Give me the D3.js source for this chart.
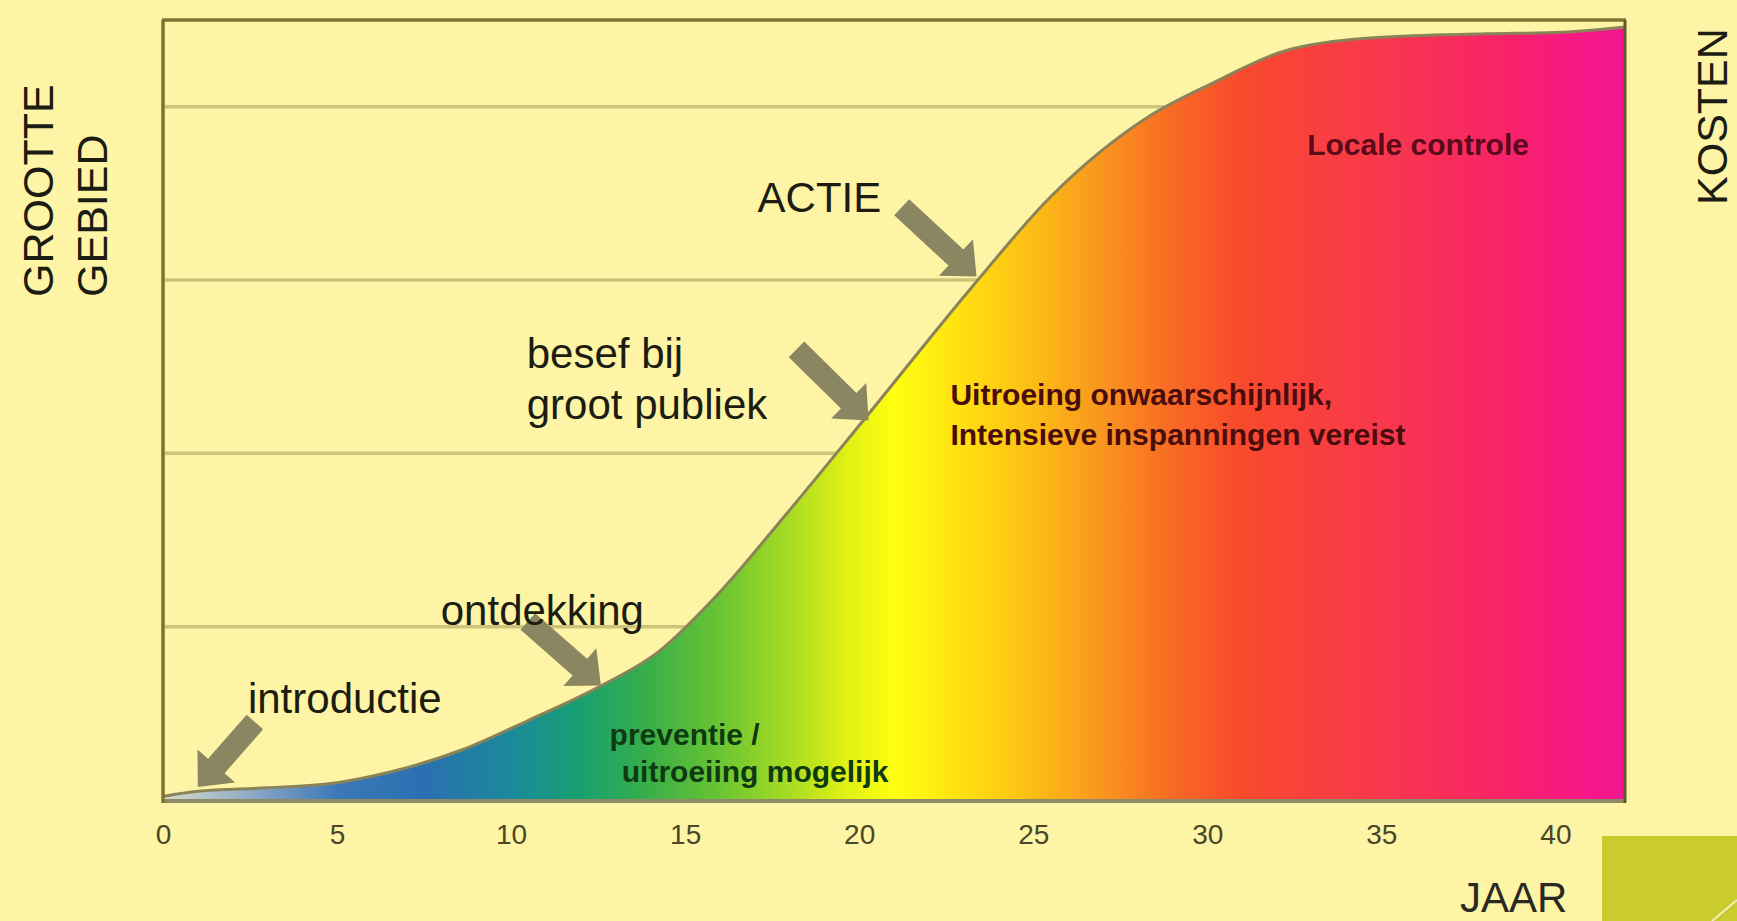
<!DOCTYPE html>
<html>
<head>
<meta charset="utf-8">
<script src="https://cdn.jsdelivr.net/npm/d3@7"></script>
<style>
  html, body { margin: 0; padding: 0; background: #fdf5a5; }
  svg { display: block; }
  text { font-family: "Liberation Sans", Arial, sans-serif; }
</style>
</head>
<body>
<svg id="chart" width="1737" height="921"></svg>
<script>
// ---------- data ----------
const years = [0, 1, 3, 5, 6.7, 8.6, 10.5, 12.5, 14.2, 16, 17.7, 20.2, 23.2, 25.5, 28.3, 30.2, 32.2, 35, 38, 40.2, 42];
const areaSize = [0.02, 0.05, 0.07, 0.10, 0.17, 0.29, 0.46, 0.65, 0.85, 1.2, 1.6, 2.21, 2.95, 3.48, 3.94, 4.14, 4.32, 4.40, 4.42, 4.43, 4.46];
const xTicks = [0, 5, 10, 15, 20, 25, 30, 35, 40];
const gridValues = [1, 2, 3, 4];

// annotation labels (data coordinates)
const labelText = ["introductie", "ontdekking", "besef bij", "groot publiek", "ACTIE"];
const labelX = [2.44, 7.98, 10.45, 10.45, 17.08];
const labelY = [0.50, 1.01, 2.49, 2.20, 3.39];

const zoneText = ["preventie /", "uitroeiing mogelijk", "Uitroeing onwaarschijnlijk,", "Intensieve inspanningen vereist", "Locale controle"];
const zoneX = [12.83, 13.18, 22.62, 22.62, 32.87];
const zoneY = [0.317, 0.104, 2.28, 2.05, 3.72];

// arrows: tail -> tip (data coordinates)
const arrowTailX = [2.64, 10.48, 18.2, 21.22];
const arrowTailY = [0.45, 1.03, 2.60, 3.42];
const arrowTipX = [1.0, 12.58, 20.27, 23.37];
const arrowTipY = [0.075, 0.66, 2.19, 3.02];

// gradient along years (style)
const gradYears = [0, 2.5, 5, 7.5, 10, 12, 14, 16, 18, 19.5, 21, 23, 25, 27, 29, 31, 33, 35, 37, 39, 41, 42];
const gradColors = ["#d8dcc8", "#8eaac6", "#3c78b8", "#2a70b0", "#1a8a9a", "#18a070", "#3aaf48", "#6ac432",
                    "#a8dc22", "#dcef15", "#ffff10", "#ffdf10", "#fcbd15", "#f9951e", "#f86a24", "#f84a2c",
                    "#f8403e", "#f8384c", "#f82c5c", "#f8206e", "#f8168a", "#f01890"];

// ---------- layout ----------
const svg = d3.select("#chart");
const x = d3.scaleLinear().domain([0, 42]).range([163, 1625]);
const y = d3.scaleLinear().domain([0, 4.5]).range([800, 20]);

svg.append("rect").attr("width", 1737).attr("height", 921).attr("fill", "#fdf5a5");

// gradient
const defs = svg.append("defs");
const grad = defs.append("linearGradient").attr("id", "areaGrad")
  .attr("gradientUnits", "userSpaceOnUse")
  .attr("x1", x(0)).attr("x2", x(42)).attr("y1", 0).attr("y2", 0);
gradYears.forEach((g, i) => grad.append("stop").attr("offset", g / 42).attr("stop-color", gradColors[i]));

// grid
svg.append("g").selectAll("line").data(gridValues).join("line")
  .attr("x1", x(0)).attr("x2", x(42))
  .attr("y1", d => y(d)).attr("y2", d => y(d))
  .attr("stroke", "#cdc47a").attr("stroke-width", 3.5);

// area
const pts = years.map((yr, i) => [yr, areaSize[i]]);
const areaGen = d3.area().x(d => x(d[0])).y0(y(0)).y1(d => y(d[1])).curve(d3.curveMonotoneX);
const lineGen = d3.line().x(d => x(d[0])).y(d => y(d[1])).curve(d3.curveMonotoneX);
svg.append("path").datum(pts).attr("d", areaGen).attr("fill", "url(#areaGrad)");
svg.append("path").datum(pts).attr("d", lineGen).attr("fill", "none")
  .attr("stroke", "#8a8358").attr("stroke-width", 3);

// frame
svg.append("line").attr("x1", x(0)).attr("x2", x(42)).attr("y1", y(0) + 1).attr("y2", y(0) + 1)
  .attr("stroke", "#8f8a66").attr("stroke-width", 4);
svg.append("line").attr("x1", x(0) - 1).attr("x2", x(42) + 1).attr("y1", y(4.5)).attr("y2", y(4.5))
  .attr("stroke", "#7c7532").attr("stroke-width", 3.5);
svg.append("line").attr("x1", x(0)).attr("x2", x(0)).attr("y1", y(4.5)).attr("y2", y(0) + 3)
  .attr("stroke", "#7c7532").attr("stroke-width", 3.5);
svg.append("line").attr("x1", x(42)).attr("x2", x(42)).attr("y1", y(4.5)).attr("y2", y(0) + 3)
  .attr("stroke", "#5f5a2c").attr("stroke-width", 3);

// x axis
const ax = svg.append("g").attr("transform", `translate(0,${y(0)})`)
  .call(d3.axisBottom(x).tickValues(xTicks).tickSize(0).tickPadding(24).tickFormat(d3.format("d")));
ax.select(".domain").remove();
ax.selectAll("text").attr("font-size", 28).attr("fill", "#4a4628")
  .style("font-family", "'Liberation Sans', Arial, sans-serif");

// arrows
function arrowPath(x0, y0, x1, y1) {
  const dx = x1 - x0, dy = y1 - y0, len = Math.hypot(dx, dy);
  const ux = dx / len, uy = dy / len, nx = -uy, ny = ux;
  const sw = 11, hw = 25, hl = 28;
  const bx = x1 - ux * hl, by = y1 - uy * hl;
  const p = [
    [x0 + nx * sw, y0 + ny * sw],
    [bx + nx * sw, by + ny * sw],
    [bx + nx * hw, by + ny * hw],
    [x1, y1],
    [bx - nx * hw, by - ny * hw],
    [bx - nx * sw, by - ny * sw],
    [x0 - nx * sw, y0 - ny * sw]
  ];
  return "M" + p.map(q => q.join(",")).join("L") + "Z";
}
svg.append("g").selectAll("path").data(arrowTailX).join("path")
  .attr("d", (d, i) => arrowPath(x(arrowTailX[i]), y(arrowTailY[i]), x(arrowTipX[i]), y(arrowTipY[i])))
  .attr("fill", "#8a8662");

// annotation labels
svg.append("g").selectAll("text").data(labelText).join("text")
  .attr("x", (d, i) => x(labelX[i])).attr("y", (d, i) => y(labelY[i]))
  .attr("font-size", 42).attr("fill", "#1c1c12").text(d => d);

// zone labels
const zoneColor = ["#0d3a12", "#0d3a12", "#4a0d0d", "#4a0d0d", "#5a0a18"];
svg.append("g").selectAll("text").data(zoneText).join("text")
  .attr("x", (d, i) => x(zoneX[i])).attr("y", (d, i) => y(zoneY[i]))
  .attr("font-size", 30).attr("font-weight", "bold")
  .attr("fill", (d, i) => zoneColor[i]).text(d => d);

// axis titles
svg.append("text").attr("transform", "translate(53,297) rotate(-90)")
  .attr("font-size", 43).attr("fill", "#1c1c12").text("GROOTTE");
svg.append("text").attr("transform", "translate(107,297) rotate(-90)")
  .attr("font-size", 43).attr("fill", "#1c1c12").text("GEBIED");
svg.append("text").attr("transform", "translate(1727,205) rotate(-90)")
  .attr("font-size", 43).attr("fill", "#1c1c12").text("KOSTEN");
svg.append("text").attr("x", 1460).attr("y", 912)
  .attr("font-size", 42).attr("fill", "#2a2a22").text("JAAR");

// decorative corner
svg.append("rect").attr("x", 1602).attr("y", 836).attr("width", 135).attr("height", 85).attr("fill", "#c9cc2c");
svg.append("line").attr("x1", 1712).attr("y1", 921).attr("x2", 1737).attr("y2", 900)
  .attr("stroke", "#f4f0c0").attr("stroke-width", 2);
</script>
</body>
</html>
